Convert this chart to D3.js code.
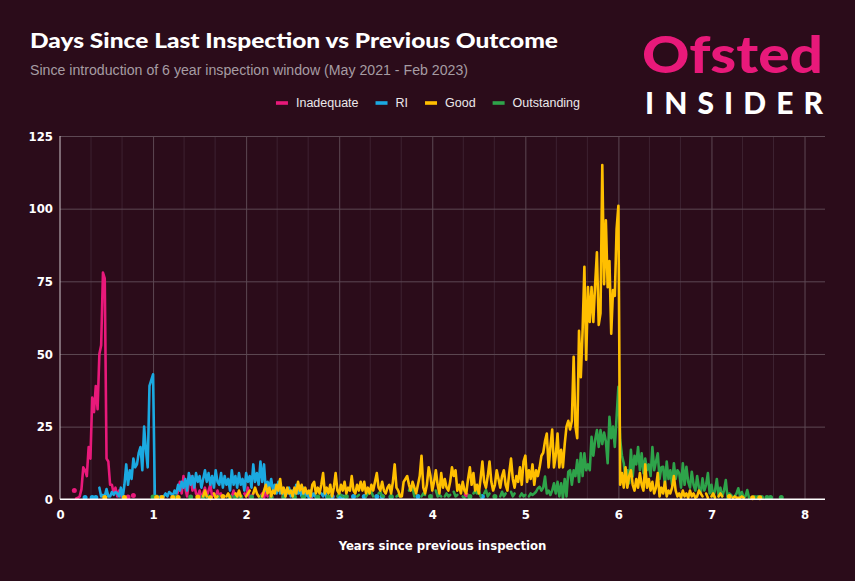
<!DOCTYPE html>
<html><head><meta charset="utf-8">
<script src="https://cdn.jsdelivr.net/npm/d3@7"></script>
<style>html,body{margin:0;padding:0;background:#2b0c1a;} svg{display:block}</style>
</head><body><svg id="c" width="855" height="581"></svg>
<script>
// ---------- DATA ----------
const seriesNames = ["Inadequate", "RI", "Good", "Outstanding"];
const seriesColors = ["#e8197a", "#1ba9e1", "#ffbf00", "#2ea34a"];
const xTicks = [0, 1, 2, 3, 4, 5, 6, 7, 8];
const yTicks = [0, 25, 50, 75, 100, 125];
const weeksPerYear = 52; // each value = one week since previous inspection

// runs: [start week index, [counts...]] ; gaps between runs = no data
const inadequateRuns = [
  [8, [3]],
  [9, [0.3,0.5,1,3.5,11,10,8,18,14,35,30,39,31,50,53,78,76,14,13,5,5,2,4,1,3,1,2]],
  [38, [0.8]], [41, [1.3]],
  [64, [1,0.5,3,6,2,8,4,1,6,8,3,5,2,1,3,0.5,2,4,1,3,5,1,2,0.5,3,1,2]],
  [96, [1,3,0.5,2,1]],
  [103, [2,1,4,0.5,1,2]],
  [112, [1,2,0.5,3,1]],
  [125, [1]], [131, [2]], [140, [1]], [152, [1]], [227, [1.5]]
];
const riRuns = [
  [14, [0.6]], [18, [0.6]], [20, [0.6]],
  [22, [4,1,1.5,1,3.5,1,1,2.5,1.5,2.5,2,1,4,0.5,5,12,5,10,7,14,11,12,16,18,10,25,17,11,39,41,43,
        1,0.5,0.5,1,0.5,1,2,1,2.5,2,1,3,2,5,3,6,4,7,3,9,5,8,4,9,6,8,4,7,10,6,9,5,8,4,10,6,5,9,4,8,5,7,3,
        10,5,8,4,9,5,7,3,9,6,8,4,12,6,9,5,13,6,12,3,6,4,7,3,5,2,6,2,4,1,3,2,4,1,3,1,5,2,3,1,4,1,2,0.5,3,1,2,0.5,1]],
  [146, [2,1,3,0.5,1]],
  [152, [1]], [156, [1]], [158, [0.8]], [164, [1]], [170, [1]], [177, [1]], [180, [1]], [185, [0.8]], [200, [1]], [236, [1]]
];
const goodRuns = [
  [25, [0.6]], [36, [0.6]], [54, [0.6]], [57, [0.6]], [63, [0.6]], [66, [0.6]], [77, [0.8]],
  [80, [1,3,1]], [84, [0.5]], [86, [2,0.5,1]], [91, [1]], [93, [1,2,0.5]], [98, [2,1,3,1]], [104, [1,2,3]], [108, [2,4,2,1]],
  [113, [1,3,5,2,4,1,3,2,5,3,7,2,4,1,4,2,3,1,4,2,6,3,5,2,4,2,3,1,5,6,2,4,2,5,9,2,4,2,5,1,4,9,3,2,5,3,6,2,4,3,
         8,3,2,5,3,6,3,6,2,4,2,5,3,6,9,4,3,6,3,2,4,5,2,6,12,4,3,1,1,6,7,8,5,3,6,4,2,5,8,15,4,2,5,11,8,3,6,10,5,2,
         9,4,7,4,3,6,11,8,10,3,5,2,6,3,2,7,11,5,9,3,5,2,7,13,6,4,8,13,6,3,5,10,7,4,8,10,5,3,9,14,7,4,8,6,11,5,13,15,6,10,
         7,12,5,10,8,11,15,16,20,22.6,11,18,24,11,15,22.6,11,17,11,19,25,27,24,27,49,25,21,58,42,58,
         80,48,73,61,73,61,74,85,60,64,115,74,96,73,82,57,72,70,93,101,
         5,9,4,11,4,8,10,5,3,7,4,9,5,3,12,4,7,3,6,2,4,9,1,4,2,6,1,3,2,4,8,3,1,2,0.5,3,1,2,0.5,3,1,2,0.5,1,3,2,1]],
  [361, [2,0.5]], [364, [1,2,0.5]], [368, [1,2,1]], [374, [1]], [376, [0.5,1,0.5,0.5,0.5,1,0.5]], [387, [0.5]], [391, [0.5]]
];
const outstandingRuns = [
  [52, [0.8]], [54, [0.8]], [65, [0.8]], [73, [0.8]], [80, [0.8]], [83, [0.8]], [88, [0.8]], [95, [0.8]], [98, [0.8]],
  [101, [0.8]], [107, [0.8]], [112, [0.8]], [118, [0.8]], [125, [0.8]], [131, [0.8]], [136, [0.8]], [144, [0.8]], [150, [0.8]],
  [155, [1,2,1.5,1]], [160, [1]], [166, [1,1.5]], [171, [1,2,3,2.5,1]], [178, [2,2.6,1,1]], [185, [1]], [188, [1,1.5,1]],
  [195, [3,4.3,4,1]], [202, [1,2,1.5]], [207, [1]], [210, [3,1,1.5,1]], [215, [1,2,1,1.5]], [220, [2.6,1,1.5]], [225, [1,0.5]],
  [229, [1]], [231, [2,3,2,3,1]], [237, [2,3.2,1,2]], [243, [1]], [246, [1,2.6,1,2]], [252, [2.6,1,2]], [257, [1,2,1,1.5]],
  [262, [1,2,1.5,2,2.6,3.8,4.3,3,4,7.8, 2,3,1.5,3,5.5,2,6,1,5.5,0.5, 7,1,9.5,10,5,10,8,13.5,6,15.8,
         8,15.8,10,12,10,21.5,15,20.4,23.8,18, 23.8,19,23,20,12.4,28.4,21,25,18,28.4,
         38.7,20.4,15,12.4,6.6,10,5.5,17,7.8,15, 12,18,10,15.8,9,14,10,12,8,18,
         10,13,15.8,7,11,11.2,5,13,7,10, 5,12.4,7,10,9,4,12.4,5,11.2,6,
         4,9.5,5,3,8,4,2,7.2,3,5, 9,2,5,1,3,7,1,4,1,3, 6.6,0.5,2,1.5,0.5,1,2,3.8,1,2.5, 0.5,1,3.2,0.5]],
  [388, [0.6]], [390, [0.6]], [392, [0.6]], [395, [0.6]], [397, [0.6]], [403, [0.6]]
];
const seriesRuns = [inadequateRuns, riRuns, goodRuns, outstandingRuns];
const drawOrder = [0, 1, 3, 2];

// ---------- CHART ----------
const svg = d3.select("#c");
const W = 855, H = 581;
const bg = "#2b0c1a";
svg.append("rect").attr("width", W).attr("height", H).attr("fill", bg);

const m = {l: 60, r: 825, t: 136, b: 499.3};
const x = d3.scaleLinear().domain([0, 8.22]).range([m.l, m.r]);
const y = d3.scaleLinear().domain([0, 125]).range([m.b, m.t]);

// minor vertical grid (thirds of a year)
const minor = d3.range(1, 25).map(i => i / 3).filter(v => Math.abs(v - Math.round(v)) > 1e-6 && v < 8.22);
svg.append("g").selectAll("line").data(minor).join("line")
  .attr("x1", d => x(d)).attr("x2", d => x(d)).attr("y1", m.t).attr("y2", m.b)
  .attr("stroke", "#3d2231").attr("stroke-width", 1);

// major grid
const gridX = d3.axisBottom(x).tickValues(xTicks.filter(d => d > 0)).tickSize(-(m.b - m.t)).tickFormat("");
svg.append("g").attr("transform", `translate(0,${m.b})`).call(gridX)
  .call(g => g.select(".domain").remove())
  .call(g => g.selectAll("line").attr("stroke", "#5d4853").attr("stroke-width", 1));
const gridY = d3.axisLeft(y).tickValues(yTicks.filter(d => d > 0)).tickSize(-(m.r - m.l)).tickFormat("");
svg.append("g").attr("transform", `translate(${m.l},0)`).call(gridY)
  .call(g => g.select(".domain").remove())
  .call(g => g.selectAll("line").attr("stroke", "#5d4853").attr("stroke-width", 1));

// y axis line
svg.append("line").attr("x1", m.l).attr("x2", m.l).attr("y1", m.t).attr("y2", m.b)
  .attr("stroke", "#cfc6cb").attr("stroke-width", 1);

// series
const line = d3.line().x(d => x(d[0])).y(d => y(d[1])).curve(d3.curveLinear);
drawOrder.forEach(si => {
  const g = svg.append("g").attr("class", "series-" + seriesNames[si]);
  seriesRuns[si].forEach(([start, vals]) => {
    const pts = vals.map((v, i) => [(start + i) / weeksPerYear, v]);
    if (pts.length === 1) {
      g.append("circle").attr("cx", x(pts[0][0])).attr("cy", y(pts[0][1])).attr("r", 2.5)
        .attr("fill", seriesColors[si]);
    } else {
      g.append("path").attr("d", line(pts)).attr("fill", "none")
        .attr("stroke", seriesColors[si]).attr("stroke-width", 2.6)
        .attr("stroke-linejoin", "round").attr("stroke-linecap", "round");
    }
  });
});

// x axis line
svg.append("line").attr("x1", m.l).attr("x2", m.r).attr("y1", m.b).attr("y2", m.b)
  .attr("stroke", "#ffffff").attr("stroke-width", 1.6);

const tickFont = "'DejaVu Sans Condensed', 'DejaVu Sans', sans-serif";
const xAxis = d3.axisBottom(x).tickValues(xTicks).tickSize(0).tickPadding(10).tickFormat(d3.format("d"));
svg.append("g").attr("transform", `translate(0,${m.b})`).call(xAxis)
  .call(g => g.select(".domain").remove())
  .call(g => g.selectAll("text").attr("fill", "#fff").attr("font-family", tickFont)
    .attr("font-weight", "bold").attr("font-size", 13));
const yAxis = d3.axisLeft(y).tickValues(yTicks).tickSize(0).tickPadding(7).tickFormat(d3.format("d"));
svg.append("g").attr("transform", `translate(${m.l},0)`).call(yAxis)
  .call(g => g.select(".domain").remove())
  .call(g => g.selectAll("text").attr("fill", "#fff").attr("font-family", tickFont)
    .attr("font-weight", "bold").attr("font-size", 13));

svg.append("text").attr("x", (m.l + m.r) / 2).attr("y", 550).attr("text-anchor", "middle")
  .attr("fill", "#fff").attr("font-family", tickFont).attr("font-weight", "bold").attr("font-size", 13)
  .text("Years since previous inspection");

// title + subtitle
svg.append("text").attr("x", 30).attr("y", 48)
  .attr("fill", "#fff").attr("font-family", "Lato, Roboto, sans-serif").attr("font-weight", 900).attr("font-size", 20)
  .attr("textLength", 528).attr("lengthAdjust", "spacingAndGlyphs")
  .text("Days Since Last Inspection vs Previous Outcome");
svg.append("text").attr("x", 30).attr("y", 74.5)
  .attr("fill", "#a69ca3").attr("font-family", "'Liberation Sans', Arial, sans-serif").attr("font-size", 14)
  .attr("textLength", 438).attr("lengthAdjust", "spacingAndGlyphs")
  .text("Since introduction of 6 year inspection window (May 2021 - Feb 2023)");

// logo
svg.append("text").attr("x", 642).attr("y", 72.5)
  .attr("font-family", "Lato, 'Open Sans', sans-serif").attr("font-weight", 900)
  .attr("fill", "#e8197a").attr("font-size", 52)
  .attr("textLength", 181).attr("lengthAdjust", "spacingAndGlyphs").text("Ofsted");
svg.append("text").attr("x", 645).attr("y", 113.5)
  .attr("font-family", "Lato, 'Open Sans', sans-serif").attr("font-weight", 900)
  .attr("fill", "#ffffff").attr("font-size", 30)
  .attr("textLength", 178).attr("lengthAdjust", "spacing").text("INSIDER");

// legend
const lg = svg.append("g");
let lx = 0;
seriesNames.forEach((n, i) => {
  const it = lg.append("g");
  it.append("rect").attr("x", 0).attr("y", -1.8).attr("width", 12).attr("height", 3.6).attr("fill", seriesColors[i]);
  const t = it.append("text").attr("x", 20).attr("y", 4.3).attr("fill", "#ece8ea")
    .attr("font-family", "'Liberation Sans', Arial, sans-serif").attr("font-size", 12.5).text(n);
  const w = 20 + t.node().getComputedTextLength();
  it.attr("transform", `translate(${lx},0)`);
  lx += w + 17;
});
const totalW = lx - 17;
lg.attr("transform", `translate(${428 - totalW / 2},103)`);
</script></body></html>
